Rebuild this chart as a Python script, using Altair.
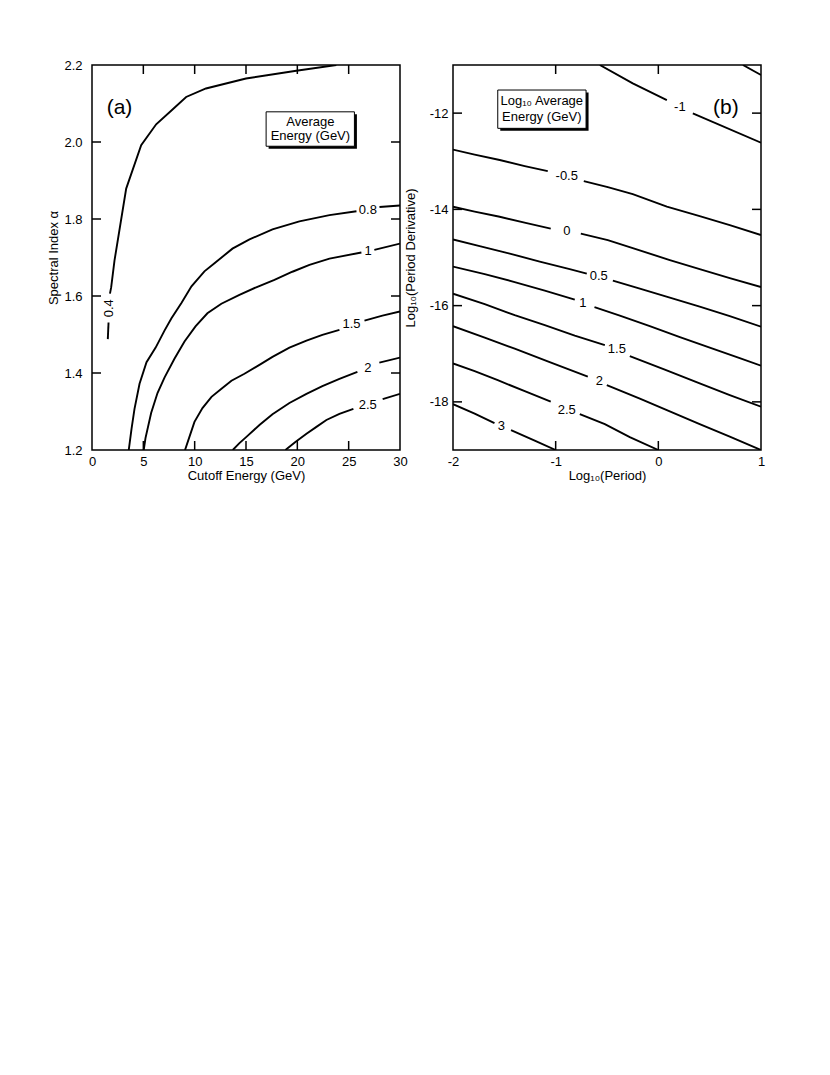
import altair as alt
import pandas as pd

FONT = "Liberation Sans"

# ---------------- Panel (a): Average energy (GeV) vs cutoff energy / spectral index
a_04_x = [23.8, 19.9, 15.0, 11.1, 9.17, 7.87, 6.25, 4.79, 3.33, 2.19, 1.87, 1.75, None, 1.61, 1.54]
a_04_y = [2.2, 2.185, 2.165, 2.139, 2.117, 2.085, 2.046, 1.992, 1.879, 1.692, 1.623, 1.606, None, 1.531, 1.488]
a_08_x = [3.58, 3.85, 4.14, 4.63, 5.31, 6.2, 7.06, 7.74, 8.71, 9.69, 10.95, 11.93, 13.68, 15.34, 17.58, 20.2, 23.13, 25.76, None, 28.0, 30.0]
a_08_y = [1.2, 1.255, 1.307, 1.372, 1.428, 1.466, 1.51, 1.542, 1.582, 1.625, 1.664, 1.685, 1.723, 1.747, 1.773, 1.794, 1.810, 1.820, None, 1.831, 1.835]
a_1_x = [5.04, 5.21, 5.76, 6.38, 7.06, 8.03, 9.01, 10.08, 11.24, 12.6, 14.36, 16.11, 17.77, 19.52, 21.18, 23.13, 26.24, None, 27.5, 30.0]
a_1_y = [1.2, 1.231, 1.296, 1.348, 1.388, 1.437, 1.482, 1.521, 1.555, 1.580, 1.603, 1.624, 1.642, 1.663, 1.681, 1.697, 1.713, None, 1.720, 1.736]
a_15_x = [9.06, 9.49, 9.98, 10.76, 11.64, 12.61, 13.58, 14.85, 16.31, 17.58, 19.23, 20.89, 22.44, 24.1, None, 26.54, 28.29, 30.0]
a_15_y = [1.2, 1.234, 1.273, 1.309, 1.338, 1.359, 1.380, 1.398, 1.421, 1.442, 1.466, 1.484, 1.499, 1.512, None, 1.536, 1.549, 1.560]
a_2_x = [13.71, 14.36, 15.04, 16.31, 17.58, 19.23, 20.89, 22.44, 24.1, 25.85, None, 27.99, 30.0]
a_2_y = [1.2, 1.218, 1.234, 1.265, 1.293, 1.322, 1.346, 1.366, 1.385, 1.403, None, 1.427, 1.440]
a_25_x = [18.84, 19.81, 20.89, 21.86, 22.83, 24.1, 25.46, None, 28.31, 30.0]
a_25_y = [1.2, 1.221, 1.242, 1.260, 1.278, 1.294, 1.307, None, 1.332, 1.346]

a_label_text = ["0.4", "0.8", "1", "1.5", "2", "2.5"]
a_label_x = [1.66, 26.87, 26.9, 25.27, 26.86, 26.86]
a_label_y = [1.568, 1.823, 1.717, 1.526, 1.414, 1.318]
a_label_angle = [270, 0, 0, 0, 0, 0]

a_xticks = [5, 10, 15, 20, 25]
a_yticks = [1.4, 1.6, 1.8, 2.0]
a_xlabels = [0, 5, 10, 15, 20, 25, 30]
a_ylabels = [1.2, 1.4, 1.6, 1.8, 2.0, 2.2]

a_box = [16.96, 25.56, 2.0784, 1.989]
a_box_text = ["Average", "Energy (GeV)"]
a_box_text_x = [21.27, 21.27]
a_box_text_y = [2.053, 2.015]
a_tag = ["(a)", 2.68, 2.088]

# ---------------- Panel (b): Log10 average energy vs log10 period / period derivative
b_m15_x = [0.824, 1.0]
b_m15_y = [-11.0, -11.208]
b_m1_x = [-0.570, -0.249, 0.083, None, 0.336, 1.0]
b_m1_y = [-11.0, -11.380, -11.728, None, -12.004, -12.615]
b_m05_x = [-2.0, -1.789, -1.545, -1.301, -1.077, None, -0.726, -0.492, -0.249, 0.083, 0.403, 0.696, 1.0]
b_m05_y = [-12.757, -12.861, -12.975, -13.100, -13.204, None, -13.412, -13.536, -13.682, -13.942, -14.139, -14.326, -14.534]
b_0_x = [-2.0, -1.789, -1.545, -1.282, -1.048, None, -0.755, -0.492, -0.249, 0.112, 0.403, 0.696, 1.0]
b_0_y = [-13.946, -14.046, -14.154, -14.285, -14.399, None, -14.503, -14.638, -14.805, -15.054, -15.241, -15.428, -15.615]
b_05_x = [-2.0, -1.740, -1.447, -1.155, -0.863, -0.697, None, -0.443, -0.180, 0.112, 0.403, 0.696, 1.0]
b_05_y = [-14.624, -14.763, -14.919, -15.085, -15.241, -15.335, None, -15.480, -15.647, -15.834, -16.021, -16.218, -16.437]
b_1_x = [-2.0, -1.691, -1.399, -1.106, -0.814, None, -0.622, -0.375, -0.083, 0.210, 0.501, 0.793, 1.0]
b_1_y = [-15.189, -15.345, -15.511, -15.688, -15.875, None, -16.031, -16.208, -16.426, -16.655, -16.873, -17.091, -17.247]
b_15_x = [-2.0, -1.691, -1.399, -1.106, -0.814, -0.521, None, -0.278, 0.063, 0.403, 0.696, 1.0]
b_15_y = [-15.751, -15.969, -16.198, -16.405, -16.624, -16.821, None, -17.050, -17.331, -17.617, -17.861, -18.100]
b_2_x = [-2.0, -1.691, -1.399, -1.058, -0.687, None, -0.502, -0.180, 0.083, 0.403, 0.696, 1.0]
b_2_y = [-16.426, -16.666, -16.894, -17.175, -17.476, None, -17.653, -17.933, -18.173, -18.464, -18.723, -19.0]
b_25_x = [-2.0, -1.789, -1.564, -1.301, -1.048, None, -0.765, -0.521, -0.278, 0.0]
b_25_y = [-17.202, -17.362, -17.549, -17.778, -17.996, None, -18.256, -18.464, -18.734, -19.0]
b_3_x = [-2.0, -1.789, -1.596, None, -1.435, -1.204, -1.0]
b_3_y = [-18.048, -18.245, -18.443, None, -18.588, -18.807, -19.0]

b_label_text = ["-1", "-0.5", "0", "0.5", "1", "1.5", "2", "2.5", "3"]
b_label_x = [0.210, -0.892, -0.892, -0.580, -0.736, -0.404, -0.575, -0.892, -1.530]
b_label_y = [-11.867, -13.308, -14.445, -15.387, -15.948, -16.894, -17.570, -18.173, -18.495]
b_label_angle = [0, 0, 0, 0, 0, 0, 0, 0, 0]

b_xticks = [-1, 0]
b_yticks = [-12, -14, -16, -18]
b_xlabels = [-2, -1, 0, 1]
b_ylabels = [-12, -14, -16, -18]

b_box = [-1.564, -0.704, -11.52, -12.316]
b_box_text = ["Log\u2081\u2080 Average", "Energy (GeV)"]
b_box_text_x = [-1.135, -1.135]
b_box_text_y = [-11.752, -12.09]
b_tag = ["(b)", 0.657, -11.894]

W, H = 308, 385
TICK = 9


def curves_df(curves):
    rows = []
    for name, xs, ys in curves:
        seg, i = 0, 0
        for x, y in zip(xs, ys):
            if x is None:
                seg += 1
                continue
            rows.append({"c": f"{name}_{seg}", "x": x, "y": y, "i": i})
            i += 1
    return pd.DataFrame(rows)


def panel(curves, lab_t, lab_x, lab_y, lab_a, xt, yt, xl, yl, xdom, ydom,
          box, btxt, bx, by, tag, xtitle, ytitle, ylabpad, ytitlepad, yfmt):
    xax = alt.Axis(values=xl, ticks=False, domain=False, grid=False, labelFlush=False,
                   labelOverlap=False, labelExpr="'' + datum.value", labelPadding=5,
                   title=xtitle, titlePadding=1)
    yax = alt.Axis(values=yl, ticks=False, domain=False, grid=False, labelFlush=False,
                   labelOverlap=False, labelExpr=yfmt, labelPadding=ylabpad,
                   title=ytitle, titlePadding=ytitlepad)
    xs = alt.Scale(domain=xdom, nice=False, zero=False)
    ys = alt.Scale(domain=ydom, nice=False, zero=False)

    def X(f):
        return alt.X(f, type="quantitative", scale=xs, axis=xax)

    def Y(f):
        return alt.Y(f, type="quantitative", scale=ys, axis=yax)

    df = curves_df(curves)
    lines = alt.Chart(df).mark_line(color="black", strokeWidth=1.9, clip=True).encode(
        x=X("x"), y=Y("y"), detail="c:N", order="i:Q")

    ldf = pd.DataFrame({"t": lab_t, "x": lab_x, "y": lab_y, "a": lab_a})
    labels = alt.Chart(ldf).mark_text(font=FONT, fontSize=13, baseline="middle",
                                      align="center", color="black").encode(
        x=X("x"), y=Y("y"), text="t:N", angle=alt.Angle("a:Q", scale=None))

    txdf = pd.DataFrame({"x": xt})
    tydf = pd.DataFrame({"y": yt})
    t_top = alt.Chart(txdf).mark_rule(color="black", strokeWidth=1.5).encode(
        x=X("x"), y=alt.value(0), y2=alt.value(TICK))
    t_bot = alt.Chart(txdf).mark_rule(color="black", strokeWidth=1.5).encode(
        x=X("x"), y=alt.value(H - TICK), y2=alt.value(H))
    t_left = alt.Chart(tydf).mark_rule(color="black", strokeWidth=1.5).encode(
        y=Y("y"), x=alt.value(0), x2=alt.value(TICK))
    t_right = alt.Chart(tydf).mark_rule(color="black", strokeWidth=1.5).encode(
        y=Y("y"), x=alt.value(W - TICK), x2=alt.value(W))

    bdf = pd.DataFrame({"x": [box[0]], "x2": [box[1]], "y": [box[2]], "y2": [box[3]]})
    shadow = alt.Chart(bdf).mark_rect(color="black", xOffset=2.5, x2Offset=2.5,
                                      yOffset=2.5, y2Offset=2.5).encode(
        x=X("x"), x2="x2", y=Y("y"), y2="y2")
    boxr = alt.Chart(bdf).mark_rect(fill="white", stroke="black", strokeWidth=1).encode(
        x=X("x"), x2="x2", y=Y("y"), y2="y2")
    btdf = pd.DataFrame({"t": btxt, "x": bx, "y": by})
    boxt = alt.Chart(btdf).mark_text(font=FONT, fontSize=13, baseline="middle",
                                     align="center", color="black").encode(
        x=X("x"), y=Y("y"), text="t:N")
    tgdf = pd.DataFrame({"t": [tag[0]], "x": [tag[1]], "y": [tag[2]]})
    tagt = alt.Chart(tgdf).mark_text(font=FONT, fontSize=21, baseline="middle",
                                     align="center", color="black").encode(
        x=X("x"), y=Y("y"), text="t:N")

    return alt.layer(lines, labels, t_top, t_bot, t_left, t_right, shadow, boxr,
                     boxt, tagt).properties(width=W, height=H)


pa = panel(
    [("0.4", a_04_x, a_04_y), ("0.8", a_08_x, a_08_y), ("1", a_1_x, a_1_y),
     ("1.5", a_15_x, a_15_y), ("2", a_2_x, a_2_y), ("2.5", a_25_x, a_25_y)],
    a_label_text, a_label_x, a_label_y, a_label_angle,
    a_xticks, a_yticks, a_xlabels, a_ylabels, [0, 30], [1.2, 2.2],
    a_box, a_box_text, a_box_text_x, a_box_text_y, a_tag,
    "Cutoff Energy (GeV)", "Spectral Index \u03b1", 10, 3, "format(datum.value, '.1f')")

pb = panel(
    [("-1.5", b_m15_x, b_m15_y), ("-1", b_m1_x, b_m1_y), ("-0.5", b_m05_x, b_m05_y),
     ("0", b_0_x, b_0_y), ("0.5", b_05_x, b_05_y), ("1", b_1_x, b_1_y),
     ("1.5", b_15_x, b_15_y), ("2", b_2_x, b_2_y), ("2.5", b_25_x, b_25_y),
     ("3", b_3_x, b_3_y)],
    b_label_text, b_label_x, b_label_y, b_label_angle,
    b_xticks, b_yticks, b_xlabels, b_ylabels, [-2, 1], [-19, -11],
    b_box, b_box_text, b_box_text_x, b_box_text_y, b_tag,
    "Log\u2081\u2080(Period)", "Log\u2081\u2080(Period Derivative)", 5, 12, "'' + datum.value")

chart = alt.hconcat(pa, pb, spacing=53, bounds="flush").properties(
    padding={"left": 39, "top": 50, "right": 5, "bottom": 5},
    background="white"
).configure_view(stroke="black", strokeWidth=1.5).configure_axis(
    labelFont=FONT, labelFontSize=13, labelColor="black",
    titleFont=FONT, titleFontSize=13, titleFontWeight="normal", titleColor="black"
)

chart.save("out.html", embed_options={"renderer": "svg", "actions": False})
